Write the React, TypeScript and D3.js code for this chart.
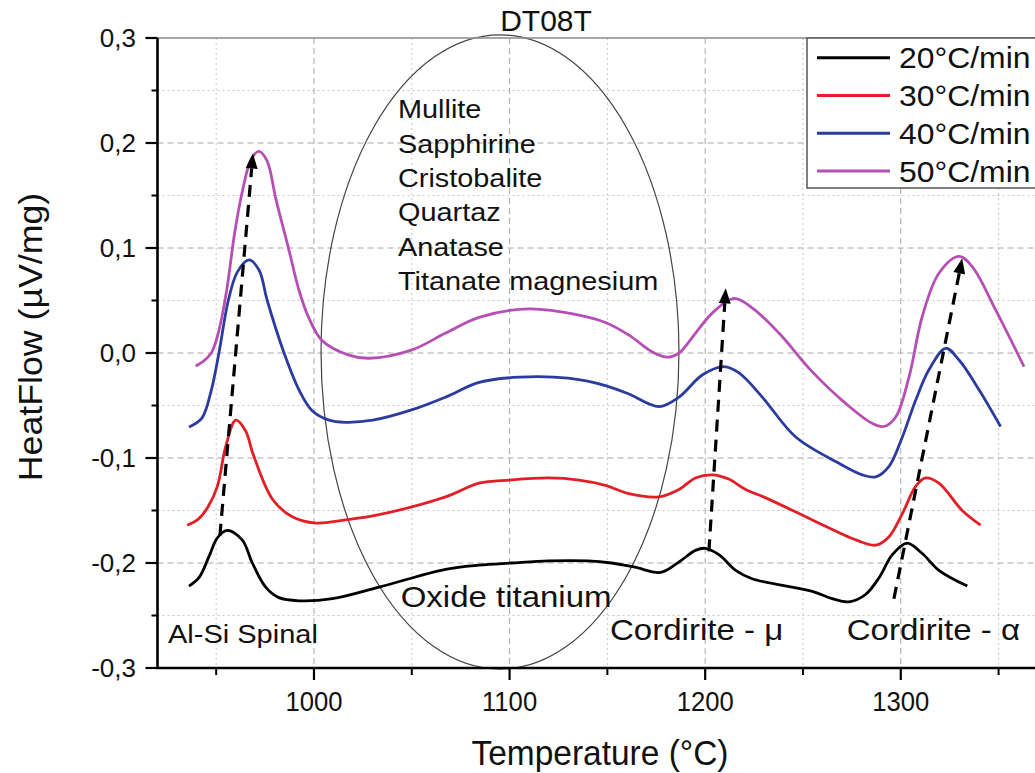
import React from "react";
import * as d3 from "d3";

type Pt = [number, number];

// ---- data (temperature °C, heat flow µV/mg) ----
const rate20: Pt[] = [
  [936.1, -0.222], [941.2, -0.214], [946.3, -0.194], [950.6, -0.176], [955.7, -0.169], [963.3, -0.178],
  [968.5, -0.2], [975.3, -0.223], [982.1, -0.233], [992.3, -0.236], [1009.4, -0.234], [1033.2, -0.223],
  [1067.3, -0.206], [1084.4, -0.202], [1101, -0.2], [1120, -0.198], [1140, -0.198], [1152, -0.2],
  [1164, -0.204], [1177.2, -0.209], [1186.6, -0.199], [1195, -0.188], [1200, -0.186], [1207, -0.192],
  [1215.6, -0.207], [1224, -0.215], [1254.8, -0.227], [1265, -0.234], [1273.5, -0.237], [1282, -0.23],
  [1288.9, -0.214], [1295.7, -0.192], [1303.3, -0.181], [1311, -0.191], [1319.5, -0.207], [1334, -0.222],
];
const rate30: Pt[] = [
  [935.2, -0.164], [941, -0.158], [946, -0.146], [950.6, -0.127], [954.9, -0.089], [960, -0.064],
  [965, -0.074], [969, -0.097], [978.7, -0.139], [988.9, -0.156], [1000.9, -0.162], [1016.2, -0.159],
  [1033.2, -0.154], [1067.3, -0.137], [1084.4, -0.124], [1100, -0.121], [1120, -0.119], [1135.5, -0.121],
  [1149, -0.126], [1161, -0.134], [1176.4, -0.137], [1186.6, -0.13], [1195, -0.119], [1203.6, -0.116],
  [1212, -0.12], [1220.7, -0.13], [1231, -0.138], [1254.8, -0.159], [1277, -0.178], [1287.2, -0.183],
  [1294, -0.175], [1300.8, -0.153], [1307.6, -0.127], [1312.7, -0.119], [1319.5, -0.124], [1331.4, -0.15],
  [1340.8, -0.164],
];
const rate40: Pt[] = [
  [936.1, -0.0705], [942.7, -0.062], [947.3, -0.037], [951.4, 0.0], [956.2, 0.05], [960.8, 0.077],
  [966.8, 0.0886], [971.9, 0.079], [976.1, 0.05], [984.7, 0.0], [992.3, -0.035], [999.1, -0.055],
  [1007.7, -0.064], [1016, -0.066], [1030, -0.064], [1050.3, -0.054], [1067.3, -0.042], [1084.4, -0.028],
  [1105, -0.023], [1130, -0.024], [1149, -0.031], [1161, -0.039], [1176.4, -0.051], [1186.6, -0.042],
  [1198.5, -0.021], [1209.6, -0.013], [1217.3, -0.019], [1229.2, -0.042], [1246.3, -0.08], [1268.4, -0.105],
  [1280.3, -0.116], [1287.2, -0.118], [1294, -0.108], [1300.8, -0.08], [1307.6, -0.045], [1314.4, -0.016],
  [1323, 0.0045], [1329.8, -0.0067], [1340, -0.035], [1351, -0.07],
];
const rate50: Pt[] = [
  [939.5, -0.0124], [944, -0.007], [947.5, 0.0], [950.5, 0.015], [953, 0.035], [955.8, 0.065],
  [959.5, 0.115], [963.5, 0.155], [968, 0.185], [971.9, 0.192], [976, 0.183], [980.6, 0.146],
  [987.2, 0.098], [992.3, 0.06], [997, 0.035], [1004.1, 0.012], [1017.9, -0.002], [1028.1, -0.005],
  [1050.1, 0.003], [1067.3, 0.019], [1084.4, 0.034], [1110, 0.042], [1135.5, 0.036], [1149, 0.029],
  [1161, 0.017], [1173, 0.001], [1180.6, -0.004], [1186.6, 0.0], [1195.1, 0.019], [1203.6, 0.038],
  [1214.7, 0.052], [1224, 0.043], [1237.7, 0.019], [1254.8, -0.018], [1271.8, -0.048], [1285.4, -0.067],
  [1291.4, -0.07], [1297.4, -0.061], [1304.2, -0.023], [1311, 0.035], [1319.5, 0.076], [1329.8, 0.092],
  [1336.6, 0.082], [1348.5, 0.041], [1363, -0.013],
];

const seriesNames = ["20°C/min", "30°C/min", "40°C/min", "50°C/min"];
const seriesData = [rate20, rate30, rate40, rate50];

const tempTicks = [1000, 1100, 1200, 1300];
const tempMinor = [950, 1050, 1150, 1250, 1350];
const hfTicks = [-0.3, -0.2, -0.1, 0, 0.1, 0.2, 0.3];
const hfMinor = [-0.25, -0.15, -0.05, 0.05, 0.15, 0.25];

const phases = ["Mullite", "Sapphirine", "Cristobalite", "Quartaz", "Anatase", "Titanate magnesium"];

// ellipse region (data coords): center temp, center hf, half-width temp, half-height hf
const ellipseCenter: Pt = [1095.1, 0.001];
const ellipseHalf: Pt = [91.5, 0.302];

// shift arrows (data coords)
const arrowFrom: Pt[] = [[951.9, -0.174], [1201.9, -0.189], [1296.5, -0.234]];
const arrowTo: Pt[] = [[968.8, 0.19], [1210.5, 0.0616], [1331.4, 0.09]];

// ---- styles ----
const W = 1035;
const H = 773;
const colors = ["#000000", "#e41e26", "#2b3c9e", "#b64fb3"];
const FONT = "'Liberation Sans', Arial, sans-serif";

const x = d3.scaleLinear().domain([920, 1380]).range([157.5, 157.5 + 460 * 1.956]);
const y = d3.scaleLinear().domain([-0.3, 0.3]).range([668, 38]);

const fmt = (v: number) => (v < 0 ? "-" : "") + Math.abs(v).toFixed(1).replace(".", ",");

function T(props: {
  x: number; y: number; size: number; sx?: number; anchor?: string; rotate?: number; children: React.ReactNode;
}) {
  const { sx = 1, anchor = "start", rotate = 0 } = props;
  return (
    <text
      transform={`translate(${props.x},${props.y}) rotate(${rotate}) scale(${sx},1)`}
      fontSize={props.size}
      fontFamily={FONT}
      textAnchor={anchor}
      fill="#111"
    >
      {props.children}
    </text>
  );
}

export default function App() {
  const line = d3
    .line<Pt>()
    .x((d) => x(d[0]))
    .y((d) => y(d[1]))
    .curve(d3.curveCatmullRom.alpha(0.5));

  const left = x.range()[0];
  const right = W;
  const top = y(0.3);
  const bottom = y(-0.3);

  const arrows = arrowFrom.map((f, i) => {
    const t = arrowTo[i];
    const x1 = x(f[0]), y1 = y(f[1]), x2 = x(t[0]), y2 = y(t[1]);
    const ang = Math.atan2(y2 - y1, x2 - x1);
    const len = 15, half = 6;
    const bx = x2 - len * Math.cos(ang), by = y2 - len * Math.sin(ang);
    const px = -Math.sin(ang), py = Math.cos(ang);
    const head = `${x2},${y2} ${bx + px * half},${by + py * half} ${bx - px * half},${by - py * half}`;
    return { x1, y1, x2: bx, y2: by, head };
  });

  const ecx = x(ellipseCenter[0]);
  const ecy = y(ellipseCenter[1]);
  const erx = x(ellipseCenter[0] + ellipseHalf[0]) - ecx;
  const ery = y(ellipseCenter[1] - ellipseHalf[1]) - ecy;

  return (
    <svg width={W} height={H} style={{ position: "absolute", left: 0, top: 0, background: "#fff" }}>
      <rect x={0} y={0} width={W} height={H} fill="#fff" />
      {/* grid */}
      {hfMinor.map((v) => (
        <line key={"hm" + v} x1={left} x2={right} y1={y(v)} y2={y(v)} stroke="#c8c8c8" strokeWidth={1} strokeDasharray="2,3" />
      ))}
      {tempMinor.map((t) => (
        <line key={"tm" + t} x1={x(t)} x2={x(t)} y1={top} y2={bottom} stroke="#c8c8c8" strokeWidth={1} strokeDasharray="2,3" />
      ))}
      {hfTicks.filter((v) => Math.abs(v) < 0.29).map((v) => (
        <line key={"hg" + v} x1={left} x2={right} y1={y(v)} y2={y(v)} stroke="#a8a8a8" strokeWidth={1} strokeDasharray="6,4" />
      ))}
      {tempTicks.map((t) => (
        <line key={"tg" + t} x1={x(t)} x2={x(t)} y1={top} y2={bottom} stroke="#a8a8a8" strokeWidth={1} strokeDasharray="6,4" />
      ))}

      {/* ellipse */}
      <ellipse cx={ecx} cy={ecy} rx={erx} ry={ery} fill="none" stroke="#444" strokeWidth={1.2} />

      {/* curves */}
      {seriesData.map((s, i) => (
        <path key={i} d={line(s) || ""} fill="none" stroke={colors[i]} strokeWidth={2.8} strokeLinejoin="round" />
      ))}

      {/* arrows */}
      {arrows.map((a, i) => (
        <g key={"ar" + i}>
          <line x1={a.x1} y1={a.y1} x2={a.x2} y2={a.y2} stroke="#000" strokeWidth={3.2} strokeDasharray="12,8" />
          <polygon points={a.head} fill="#000" />
        </g>
      ))}

      {/* annotations */}
      {phases.map((p, i) => (
        <T key={p} x={398} y={118.3 + i * 34.3} size={26} sx={1.11}>{p}</T>
      ))}
      <T x={400.7} y={606.7} size={30} sx={1.1}>Oxide titanium</T>
      <T x={168} y={643} size={25} sx={1.16}>Al-Si Spinal</T>
      <T x={610} y={640} size={29} sx={1.14}>Cordirite - μ</T>
      <T x={846.7} y={640} size={29} sx={1.14}>Cordirite - α</T>

      {/* frame & axes */}
      <line x1={left} x2={right} y1={top} y2={top} stroke="#8a8a8a" strokeWidth={1.5} />
      <line x1={left} x2={left} y1={top} y2={bottom + 1} stroke="#000" strokeWidth={2.6} />
      <line x1={left - 1} x2={right} y1={bottom} y2={bottom} stroke="#000" strokeWidth={2.6} />
      {hfTicks.map((v) => (
        <line key={"yt" + v} x1={left - 12} x2={left} y1={y(v)} y2={y(v)} stroke="#000" strokeWidth={2.2} />
      ))}
      {hfMinor.map((v) => (
        <line key={"ytm" + v} x1={left - 6} x2={left} y1={y(v)} y2={y(v)} stroke="#000" strokeWidth={2} />
      ))}
      {tempTicks.map((t) => (
        <line key={"xt" + t} x1={x(t)} x2={x(t)} y1={bottom} y2={bottom + 12} stroke="#000" strokeWidth={2.2} />
      ))}
      {tempMinor.map((t) => (
        <line key={"xtm" + t} x1={x(t)} x2={x(t)} y1={bottom} y2={bottom + 7} stroke="#000" strokeWidth={2} />
      ))}
      {hfTicks.map((v) => (
        <T key={"yl" + v} x={136} y={y(v) + 9} size={26} anchor="end">{fmt(v)}</T>
      ))}
      {tempTicks.map((t) => (
        <T key={"xl" + t} x={x(t)} y={711} size={27} sx={0.95} anchor="middle">{String(t)}</T>
      ))}

      {/* titles */}
      <T x={546} y={31} size={30} anchor="middle">DT08T</T>
      <T x={600} y={765} size={36} sx={0.93} anchor="middle">Temperature (°C)</T>
      <T x={42} y={337} size={34} sx={1.05} anchor="middle" rotate={-90}>HeatFlow (µV/mg)</T>

      {/* legend */}
      <rect x={807} y={38} width={260} height={150} fill="#fff" stroke="#555" strokeWidth={1.5} />
      {seriesNames.map((n, i) => {
        const ly = 57.7 + i * 37.8;
        return (
          <g key={n}>
            <line x1={817} x2={890} y1={ly} y2={ly} stroke={colors[i]} strokeWidth={3} />
            <T x={899} y={ly + 10.5} size={29} sx={1.1}>{n}</T>
          </g>
        );
      })}
    </svg>
  );
}
